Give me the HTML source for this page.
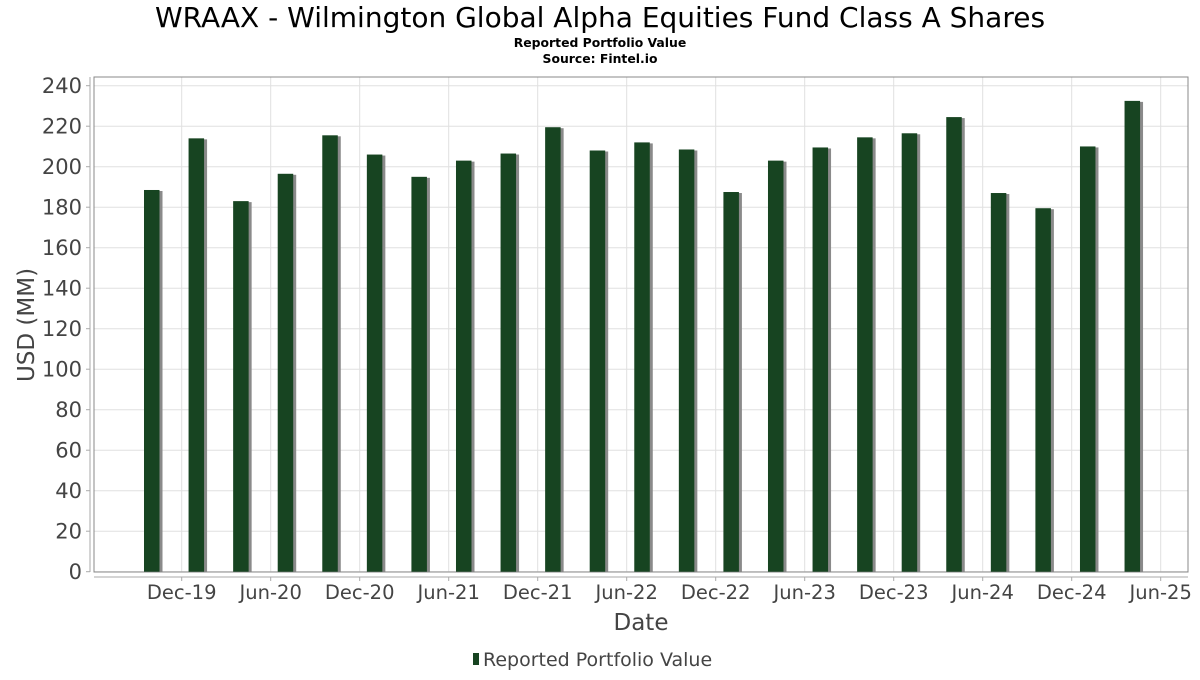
<!DOCTYPE html>
<html><head><meta charset="utf-8"><style>
body{margin:0;background:#fff;}
svg text{font-family:"DejaVu Sans","Liberation Sans",sans-serif;}
</style></head><body>
<svg width="1200" height="675" xmlns="http://www.w3.org/2000/svg">
<text x="600" y="27" text-anchor="middle" font-size="28" fill="#000">WRAAX - Wilmington Global Alpha Equities Fund Class A Shares</text>
<text x="600" y="47" text-anchor="middle" font-size="12.4" font-weight="bold" fill="#000">Reported Portfolio Value</text>
<text x="600" y="63" text-anchor="middle" font-size="12.4" font-weight="bold" fill="#000">Source: Fintel.io</text>
<g id="grid"></g>
<rect x="94" y="77" width="1094" height="495" fill="none" stroke="#888" stroke-width="1"/>
<line x1="90" y1="77" x2="90" y2="572" stroke="#aaa"/>
<line x1="94" y1="577" x2="1188" y2="577" stroke="#aaa"/>
<g id="bars"></g>
<g id="yticks"></g>
<g id="xticks"></g>
<text x="641" y="630" text-anchor="middle" font-size="23" fill="#444">Date</text>
<text transform="translate(34,325) rotate(-90)" text-anchor="middle" font-size="23" fill="#444">USD (MM)</text>
<g>
<rect x="473" y="653" width="6" height="12" fill="#174421"/>
<text x="483" y="666" font-size="19" fill="#444">Reported Portfolio Value</text>
</g>
</svg>
<script>
const values=[188.5,214,183,196.5,215.5,206,195,203,206.5,219.5,208,212,208.5,187.5,203,209.5,214.5,216.5,224.5,187,179.5,210,232.5];
const yTicks=[0,20,40,60,80,100,120,140,160,180,200,220,240];
const xTickLabels=["Dec-19","Jun-20","Dec-20","Jun-21","Dec-21","Jun-22","Dec-22","Jun-23","Dec-23","Jun-24","Dec-24","Jun-25"];
const NS="http://www.w3.org/2000/svg";
function y(v){return 571.7-v*2.025;}
function xBar(i){return 144+i*44.57;}
function xTick(k){return 181.7+k*89.0;}
const grid=document.getElementById('grid'),bars=document.getElementById('bars'),yt=document.getElementById('yticks'),xt=document.getElementById('xticks');
function mk(t,a,p){const e=document.createElementNS(NS,t);for(const k in a)e.setAttribute(k,a[k]);p.appendChild(e);return e;}
yTicks.forEach(v=>{
 const g=mk('line',{x1:94,x2:1188,y1:y(v),y2:y(v),stroke:'#e0e0e0'},grid);
 
 
 const t=mk('line',{x1:86,x2:90,y1:y(v),y2:y(v),stroke:'#aaa'},yt);
 
 
 const l=mk('text',{x:82,y:y(v)+7.5,'text-anchor':'end','font-size':'21',fill:'#444'},yt);
 l.textContent=v;
 
 
});
xTickLabels.forEach((s,k)=>{
 const x=xTick(k);
 const g=mk('line',{x1:x,x2:x,y1:77,y2:572,stroke:'#e0e0e0'},grid);
 
 
 const t=mk('line',{x1:x,x2:x,y1:577,y2:581,stroke:'#aaa'},xt);
 
 
 const l=mk('text',{x:x,y:599,'text-anchor':'middle','font-size':'19.5',fill:'#444'},xt);
 l.textContent=s;
 
 
});
values.forEach((v,i)=>{
 const x=xBar(i);
 const s=mk('rect',{x:x+3,y:y(v)+1,width:15.5,height:571.7-y(v)-1,fill:'#8a8a8a'},bars);
 
 
 const b=mk('rect',{x:x,y:y(v),width:15.5,height:571.7-y(v),fill:'#174421'},bars);
 
 
});
</script>
</body></html>
